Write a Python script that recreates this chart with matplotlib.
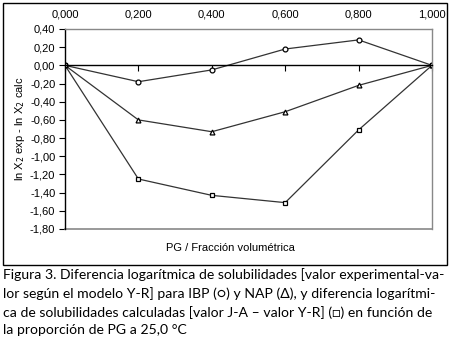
import matplotlib
matplotlib.use('Agg')
import matplotlib.pyplot as plt
from matplotlib.patches import Rectangle

# data
pg = [0.0, 0.2, 0.4, 0.6, 0.8, 1.0]
ibp = [0.0, -0.18, -0.05, 0.18, 0.28, 0.0]
nap = [0.0, -0.60, -0.73, -0.51, -0.22, 0.0]
ja_yr = [0.0, -1.25, -1.43, -1.51, -0.71, 0.0]

x_ticks = [0.0, 0.2, 0.4, 0.6, 0.8, 1.0]
y_ticks = [0.40, 0.20, 0.0, -0.20, -0.40, -0.60, -0.80, -1.00, -1.20, -1.40, -1.60, -1.80]

caption = ("Figura 3. Diferencia logarítmica de solubilidades [valor experimental-va-\n"
           "lor según el modelo Y-R] para IBP (\u25cb) y NAP (\u0394), y diferencia logarítmi-\n"
           "ca de solubilidades calculadas [valor J-A \u2013 valor Y-R] (\u25a1) en función de\n"
           "la proporción de PG a 25,0 °C")

W, H = 451, 344
fig = plt.figure(figsize=(W / 100, H / 100), dpi=100)
plt.rcParams['font.family'] = ['Liberation Sans', 'DejaVu Sans']

ax = fig.add_axes([65 / W, 1 - 229 / H, 367 / W, 200 / H])

mk = dict(color='#333333', lw=0.9, markersize=3.5, markerfacecolor='white',
          markeredgecolor='black', markeredgewidth=0.9)
ax.plot(pg, ibp, marker='o', **mk)
ax.plot(pg, nap, marker='^', **mk)
ax.plot(pg, ja_yr, marker='s', **mk)

ax.set_xlim(0, 1)
ax.set_ylim(-1.8, 0.4)
ax.set_xticks(x_ticks)
ax.set_yticks(y_ticks)
ax.set_xticklabels([f"{v:.3f}".replace('.', ',') for v in x_ticks])
ax.set_yticklabels([f"{v:.2f}".replace('.', ',').replace('-0,00', '0,00') for v in y_ticks])

ax.spines['bottom'].set_position(('data', 0))
ax.spines['bottom'].set_color('black')
ax.spines['left'].set_color('black')
ax.spines['top'].set_color('#888888')
ax.spines['right'].set_color('#888888')
ax.axhline(-1.8, color='#888888', lw=1.2, clip_on=False)
for s in ax.spines.values():
    s.set_linewidth(1.0)

ax.tick_params(axis='x', direction='out', length=4, bottom=True, top=False,
               labelbottom=False, labeltop=True, labelsize=8, pad=3)
ax.tick_params(axis='y', direction='out', length=4, labelsize=8, pad=3)

ax.set_ylabel("ln X$_2$ exp - ln X$_2$ calc", fontsize=8, labelpad=2)
fig.text(230 / W, 1 - 248 / H, "PG / Fracción volumétrica", fontsize=8,
         ha='center', va='center')

fig.patches.append(Rectangle((3 / W, 1 - 265 / H), 444 / W, 262 / H,
                             transform=fig.transFigure, fill=False,
                             edgecolor='black', lw=1.0))

fig.text(3 / W, 1 - 268 / H, caption, fontsize=10.1, va='top', ha='left',
         family=['Lato', 'DejaVu Sans'], linespacing=1.55)

fig.savefig('out.png', dpi=100)
